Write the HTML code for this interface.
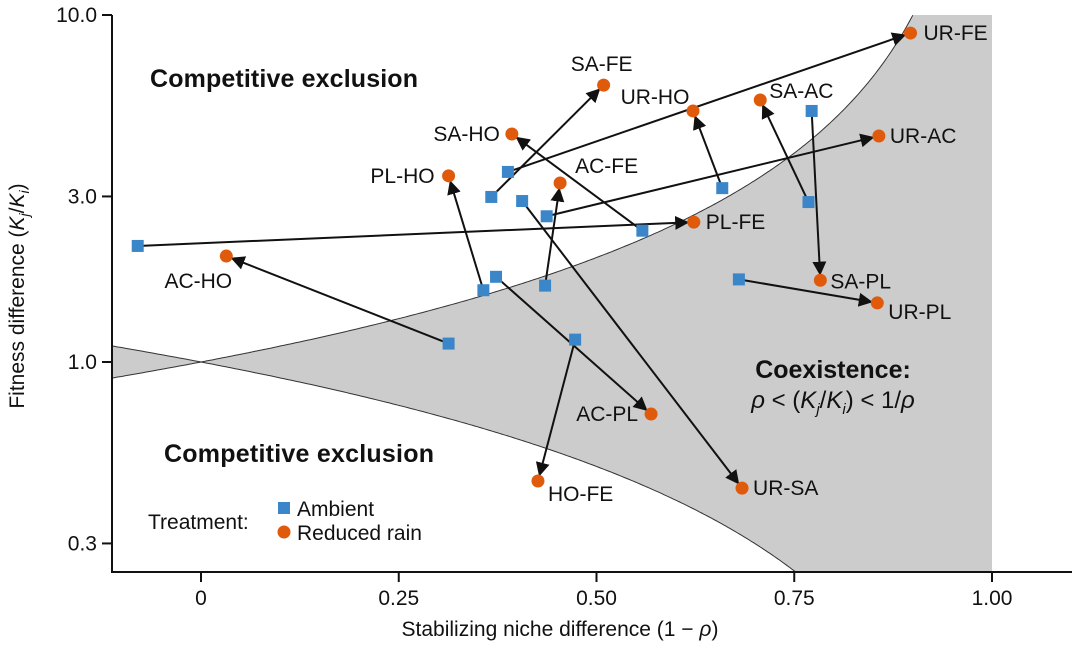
<!DOCTYPE html>
<html><head><meta charset="utf-8"><style>
body{margin:0;background:#fff;}
svg{display:block;font-family:"Liberation Sans",Arial,sans-serif;}
</style></head><body>
<svg id="chart" width="1080" height="645">
<defs><marker id="ah" viewBox="0 0 10 10" refX="9" refY="5" markerWidth="7" markerHeight="7" orient="auto-start-reverse"><path d="M0,0 L10,5 L0,10 z" fill="#111"/></marker></defs>
<g id="regions"></g><g id="arrows"></g><g id="marks"></g><g id="labels"></g><g id="axes"></g>
<text x="150" y="87" font-size="25" font-weight="bold" fill="#111" textLength="268">Competitive exclusion</text>
<text x="164" y="462" font-size="25" font-weight="bold" fill="#111" textLength="270">Competitive exclusion</text>
<text x="833" y="378" font-size="25" font-weight="bold" text-anchor="middle" fill="#111">Coexistence:</text>
<text x="833" y="408" font-size="24" text-anchor="middle" fill="#111"><tspan font-style="italic">ρ</tspan> &lt; (<tspan font-style="italic">K</tspan><tspan font-style="italic" font-size="15" dy="6">j</tspan><tspan dy="-6">/</tspan><tspan font-style="italic">K</tspan><tspan font-style="italic" font-size="15" dy="6">i</tspan><tspan dy="-6">) &lt; 1/</tspan><tspan font-style="italic">ρ</tspan></text>
<g>
<text x="148" y="529" font-size="21" fill="#111">Treatment:</text>
<rect x="278" y="502" width="12" height="12" fill="#3b86c8"/>
<text x="284" y="516" font-size="21" fill="#111" dx="0"><tspan x="297">Ambient</tspan></text>
<circle cx="284" cy="532" r="6.5" fill="#e05a0c"/>
<text x="297" y="540" font-size="21" fill="#111">Reduced rain</text>
</g>
<text x="560" y="636" font-size="21" text-anchor="middle" fill="#111">Stabilizing niche difference (1 − <tspan font-style="italic">ρ</tspan>)</text>
<text transform="translate(24,296) rotate(-90)" font-size="21" text-anchor="middle" fill="#111">Fitness difference (<tspan font-style="italic">K</tspan><tspan font-style="italic" font-size="14" dy="5">j</tspan><tspan dy="-5">/</tspan><tspan font-style="italic">K</tspan><tspan font-style="italic" font-size="14" dy="5">i</tspan><tspan dy="-5">)</tspan></text>
</svg>
<script>
const pairs=["AC-HO","PL-FE","PL-HO","SA-FE","SA-HO","UR-FE","AC-FE","UR-AC","UR-HO","SA-AC","SA-PL","UR-PL","AC-PL","HO-FE","UR-SA"];
const ambX=[0.313,-0.080,0.357,0.367,0.558,0.388,0.435,0.437,0.659,0.768,0.772,0.680,0.373,0.473,0.406];
const ambY=[1.13,2.16,1.61,2.99,2.39,3.53,1.66,2.63,3.17,2.89,5.29,1.73,1.76,1.16,2.91];
const redX=[0.032,0.623,0.313,0.509,0.393,0.897,0.454,0.857,0.622,0.707,0.783,0.855,0.569,0.426,0.684];
const redY=[2.02,2.53,3.44,6.28,4.54,8.87,3.28,4.48,5.29,5.69,1.72,1.48,0.708,0.454,0.433];
const xTicks=[0,0.25,0.5,0.75,1];
const xTickLabels=["0","0.25","0.50","0.75","1.00"];
const yTicks=[0.3,1,3,10];
const yTickLabels=["0.3","1.0","3.0","10.0"];
// label placement (style): [dx,dy,anchor]
const lab={"AC-HO":[-28,32,"middle"],"PL-FE":[12,7,"start"],"PL-HO":[-14,7,"end"],"SA-FE":[-2,-14,"middle"],"SA-HO":[-12,7,"end"],"UR-FE":[13,7,"start"],"AC-FE":[15,-10,"start"],"UR-AC":[11,7,"start"],"UR-HO":[-38,-7,"middle"],"SA-AC":[9,-2,"start"],"SA-PL":[10,8,"start"],"UR-PL":[11,16,"start"],"AC-PL":[-13,7,"end"],"HO-FE":[10,20,"start"],"UR-SA":[11,7,"start"]};
const X0=201,XS=791,Y1=362,YD=347,L=112,B=572,R=1072,T=15;
const sx=v=>X0+v*XS, sy=v=>Y1-Math.log10(v)*YD;
const ns="http://www.w3.org/2000/svg";
function mk(t,a,p){const e=document.createElementNS(ns,t);for(const k in a)e.setAttribute(k,a[k]);p.appendChild(e);return e;}
const G=id=>document.getElementById(id);
let up=[],lo=[];
const xmin=(L-X0)/XS;
for(let i=0;i<=400;i++){const x=xmin+(1-xmin)*i/400;const rho=1-x;
 let yu=sy(1/Math.max(rho,1e-6)); if(yu<T)yu=T; up.push([sx(x),yu]);
 let yl=sy(Math.max(rho,1e-6)); if(yl>B)yl=B; lo.push([sx(x),yl]);}
let d="M"+up.map(p=>p[0].toFixed(1)+","+p[1].toFixed(1)).join("L")+"L"+lo.reverse().map(p=>p[0].toFixed(1)+","+p[1].toFixed(1)).join("L")+"Z";
const reg=mk("path",{d:d,fill:"#cccccc",stroke:"none"},G("regions"));


let cu=[],cl=[];
for(let i=0;i<=400;i++){const x=xmin+(1-xmin)*i/400;const rho=1-x;
 const yu=sy(1/rho); if(yu>=T-1) cu.push(sx(x).toFixed(1)+","+yu.toFixed(1));
 const yl=sy(rho); if(yl<=B+1) cl.push(sx(x).toFixed(1)+","+yl.toFixed(1));}
const c1=mk("polyline",{points:cu.join(" "),fill:"none",stroke:"#333","stroke-width":1},G("regions"));


const c2=mk("polyline",{points:cl.join(" "),fill:"none",stroke:"#333","stroke-width":1},G("regions"));


pairs.forEach((p,i)=>{
 const x1=sx(ambX[i]),y1=sy(ambY[i]),x2=sx(redX[i]),y2=sy(redY[i]);
 const dx=x2-x1,dy=y2-y1,len=Math.hypot(dx,dy);
 const ar=mk("line",{x1:x1,y1:y1,x2:x2-dx/len*6,y2:y2-dy/len*6,stroke:"#111","stroke-width":2,"marker-end":"url(#ah)"},G("arrows"));
 
 
 const sq=mk("rect",{x:x1-6,y:y1-6,width:12,height:12,fill:"#3b86c8"},G("marks"));
 
 
 const ci=mk("circle",{cx:x2,cy:y2,r:6.5,fill:"#e05a0c"},G("marks"));
 
 
 const o=lab[p]||[10,7,"start"];
 const t=mk("text",{x:x2+o[0],y:y2+o[1],"font-size":21,"text-anchor":o[2],fill:"#111"},G("labels"));
 t.textContent=p;
 
 
});
const ax=G("axes");
const xa=mk("path",{d:`M${L},${T}V${B}H${R}`,fill:"none",stroke:"#111","stroke-width":2},ax);


xTicks.forEach((v,i)=>{
 const tk=mk("line",{x1:sx(v),x2:sx(v),y1:B,y2:B+10,stroke:"#111","stroke-width":2},ax);
 
 
 const t=mk("text",{x:sx(v),y:B+33,"font-size":21,"text-anchor":"middle",fill:"#111"},ax);
 t.textContent=xTickLabels[i];
 
 
});
yTicks.forEach((v,i)=>{
 const tk=mk("line",{x1:L-10,x2:L,y1:sy(v),y2:sy(v),stroke:"#111","stroke-width":2},ax);
 
 
 const t=mk("text",{x:L-15,y:sy(v)+7,"font-size":21,"text-anchor":"end",fill:"#111"},ax);
 t.textContent=yTickLabels[i];
 
 
});
</script>
</body></html>
